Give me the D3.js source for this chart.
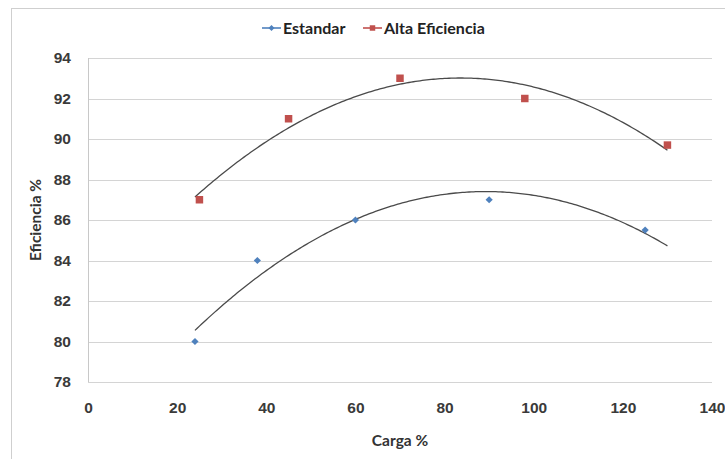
<!DOCTYPE html>
<html>
<head>
<meta charset="utf-8">
<script src="https://cdn.jsdelivr.net/npm/d3@7"></script>
<style>
  html, body { margin: 0; padding: 0; background: #ffffff; }
  svg { display: block; font-family: Lato, "Open Sans", "Liberation Sans", sans-serif; }
</style>
</head>
<body>
<svg id="chart" width="725" height="459"></svg>
<script>
// Efficiency (%) versus load (%) for two motor types
const seriesNames = ["Estandar", "Alta Eficiencia"];
const cargaEstandar = [24, 38, 60, 90, 125];
const eficEstandar  = [80, 84, 86, 87, 85.5];
const cargaAlta     = [25, 45, 70, 98, 130];
const eficAlta      = [87, 91, 93, 92, 89.7];
const xTicks = [0, 20, 40, 60, 80, 100, 120, 140];
const yTicks = [78, 80, 82, 84, 86, 88, 90, 92, 94];
const trendSpan = [24, 130];

const colors = ["#4f81bd", "#c0504d"];

const svg = d3.select("#chart");
const W = 725, H = 459;
const plot = { left: 88, right: 712, top: 58, bottom: 382 };

const x = d3.scaleLinear().domain([0, 140]).range([plot.left, plot.right]);
const y = d3.scaleLinear().domain([78, 94]).range([plot.bottom, plot.top]);

// outer frame of the chart area
svg.append("rect")
  .attr("x", 11.5).attr("y", 8.5)
  .attr("width", W + 20).attr("height", H + 20)
  .attr("fill", "#ffffff").attr("stroke", "#cfcfcf").attr("stroke-width", 1);

// horizontal gridlines
svg.append("g")
  .selectAll("line")
  .data(yTicks)
  .join("line")
  .attr("x1", plot.left).attr("x2", plot.right)
  .attr("y1", d => Math.round(y(d)) + 0.5).attr("y2", d => Math.round(y(d)) + 0.5)
  .attr("stroke", "#d4d4d4").attr("stroke-width", 1.2);

// vertical value axis line
svg.append("line")
  .attr("x1", plot.left + 0.5).attr("x2", plot.left + 0.5)
  .attr("y1", plot.top).attr("y2", plot.bottom)
  .attr("stroke", "#c8c8c8").attr("stroke-width", 1);

// y axis labels
const yAxis = d3.axisLeft(y).tickValues(yTicks).tickSize(0).tickPadding(17);
const gy = svg.append("g").attr("transform", `translate(${plot.left},0)`).call(yAxis);
gy.select(".domain").remove();
gy.selectAll("text")
  .attr("font-size", 15.5).attr("font-weight", 700).attr("fill", "#3a3a3a");

// x axis labels
const xAxis = d3.axisBottom(x).tickValues(xTicks).tickSize(0).tickPadding(20);
const gx = svg.append("g").attr("transform", `translate(0,${plot.bottom})`).call(xAxis);
gx.select(".domain").remove();
gx.selectAll("text")
  .attr("font-size", 15.5).attr("font-weight", 700).attr("fill", "#3a3a3a");

// axis titles
svg.append("text")
  .attr("x", (plot.left + plot.right) / 2 + 0).attr("y", 446)
  .attr("text-anchor", "middle")
  .attr("font-size", 15.5).attr("font-weight", 700).attr("fill", "#333333")
  .text("Carga %");

svg.append("text")
  .attr("transform", `translate(41,${(plot.top + plot.bottom) / 2}) rotate(-90)`)
  .attr("text-anchor", "middle")
  .attr("font-size", 15.5).attr("font-weight", 700).attr("fill", "#333333")
  .text("Eficiencia %");

// least-squares second-order polynomial fit
function quadFit(xs, ys) {
  const n = xs.length;
  let s = [0, 0, 0, 0, 0], t = [0, 0, 0];
  for (let i = 0; i < n; i++) {
    let p = 1;
    for (let k = 0; k < 5; k++) { s[k] += p; p *= xs[i]; }
    p = 1;
    for (let k = 0; k < 3; k++) { t[k] += ys[i] * p; p *= xs[i]; }
  }
  const M = [[s[0], s[1], s[2], t[0]], [s[1], s[2], s[3], t[1]], [s[2], s[3], s[4], t[2]]];
  for (let c = 0; c < 3; c++) {
    for (let r = c + 1; r < 3; r++) {
      const f = M[r][c] / M[c][c];
      for (let k = c; k < 4; k++) M[r][k] -= f * M[c][k];
    }
  }
  const a = [0, 0, 0];
  for (let r = 2; r >= 0; r--) {
    let v = M[r][3];
    for (let k = r + 1; k < 3; k++) v -= M[r][k] * a[k];
    a[r] = v / M[r][r];
  }
  return xv => a[0] + a[1] * xv + a[2] * xv * xv;
}

const trendLine = d3.line().x(d => x(d[0])).y(d => y(d[1]));
[[cargaEstandar, eficEstandar], [cargaAlta, eficAlta]].forEach(([xs, ys]) => {
  const f = quadFit(xs, ys);
  const pts = d3.range(trendSpan[0], trendSpan[1] + 0.001, 0.5).map(v => [v, f(v)]);
  svg.append("path")
    .attr("d", trendLine(pts))
    .attr("fill", "none").attr("stroke", "#4a4a4a").attr("stroke-width", 1.3);
});

// markers: diamonds are squares turned 45 degrees
const diamondPath = s => d3.symbol().type(d3.symbolSquare).size(s)();

svg.append("g").selectAll("path")
  .data(d3.zip(cargaEstandar, eficEstandar))
  .join("path")
  .attr("transform", d => `translate(${x(d[0])},${y(d[1])}) rotate(45)`)
  .attr("d", diamondPath(26))
  .attr("fill", colors[0]);

svg.append("g").selectAll("path")
  .data(d3.zip(cargaAlta, eficAlta))
  .join("path")
  .attr("transform", d => `translate(${x(d[0])},${y(d[1])})`)
  .attr("d", d3.symbol().type(d3.symbolSquare).size(56)())
  .attr("fill", colors[1]);

// legend
const legendItems = [
  { name: seriesNames[0], color: colors[0], rot: 45, size: 18, x: 262 },
  { name: seriesNames[1], color: colors[1], rot: 0, size: 30, x: 363 }
];
const lg = svg.append("g").selectAll("g").data(legendItems).join("g")
  .attr("transform", d => `translate(${d.x},28)`);
lg.append("line")
  .attr("x1", 0).attr("x2", 19).attr("y1", 0).attr("y2", 0)
  .attr("stroke", d => d.color).attr("stroke-width", 1.6);
lg.append("path")
  .attr("transform", d => `translate(9.5,0) rotate(${d.rot})`)
  .attr("d", d => diamondPath(d.size))
  .attr("fill", d => d.color);
lg.append("text")
  .attr("x", 21).attr("y", 5.5)
  .attr("font-size", 16).attr("font-weight", 700).attr("fill", "#222222")
  .text(d => d.name);
</script>
</body>
</html>
